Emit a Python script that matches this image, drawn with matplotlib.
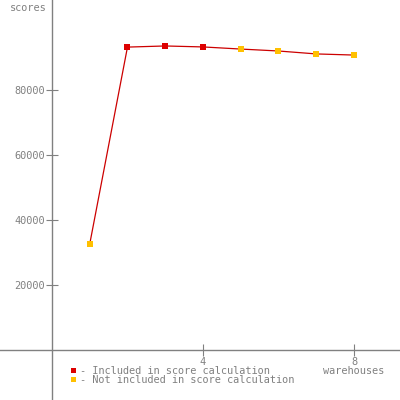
import matplotlib
matplotlib.use("Agg")
import matplotlib.pyplot as plt
from matplotlib.lines import Line2D

warehouses = [1, 2, 3, 4, 5, 6, 7, 8]
scores = [32600, 93200, 93550, 93250, 92600, 92000, 91100, 90750]
included = [False, True, True, True, False, False, False, False]
x_ticks = [4, 8]
y_ticks = [20000, 40000, 60000, 80000]

red = "#dd0000"
yellow = "#ffc000"
gray = "#808080"
font = "DejaVu Sans Mono"
fs = 7.4

fig = plt.figure(figsize=(4, 4), dpi=100)
ax = fig.add_axes([0, 0, 1, 1])
ax.set_xlim(-1.377, 9.22)
ax.set_ylim(-15385, 107692)

ax.plot(warehouses, scores, color="#cc0000", linewidth=0.9, zorder=2)
for x, y, inc in zip(warehouses, scores, included):
    ax.plot(x, y, marker="s", markersize=4.3, color=red if inc else yellow,
            markeredgewidth=0, zorder=3)

for side in ["top", "right"]:
    ax.spines[side].set_visible(False)
for side in ["left", "bottom"]:
    ax.spines[side].set_position(("data", 0))
    ax.spines[side].set_color(gray)
    ax.spines[side].set_linewidth(1)

ax.set_xticks(x_ticks)
ax.set_yticks(y_ticks)
ax.tick_params(direction="inout", length=8, width=0.8, color=gray,
               labelcolor=gray, labelsize=fs, pad=1)
for lab in ax.get_xticklabels() + ax.get_yticklabels():
    lab.set_fontfamily(font)

fig.text(47 / 400, 1 - 8 / 400, "scores", ha="right", va="center",
         color=gray, fontsize=fs, family=font)
fig.text(354 / 400, 1 - 371 / 400, "warehouses", ha="center", va="center",
         color=gray, fontsize=fs, family=font)

handles = [
    Line2D([], [], marker="s", linestyle="none", color=red, markersize=3.6, markeredgewidth=0),
    Line2D([], [], marker="s", linestyle="none", color=yellow, markersize=3.6, markeredgewidth=0),
]
labels = ["- Included in score calculation", "- Not included in score calculation"]
leg = fig.legend(handles, labels, loc="upper left", bbox_to_anchor=(69 / 400, 1 - 366 / 400),
                 frameon=False, handlelength=0.8, handletextpad=0.25, labelspacing=-0.12,
                 borderpad=0, borderaxespad=0, prop={"family": font, "size": fs})
for t in leg.get_texts():
    t.set_color(gray)

fig.savefig("out.png", dpi=100)
